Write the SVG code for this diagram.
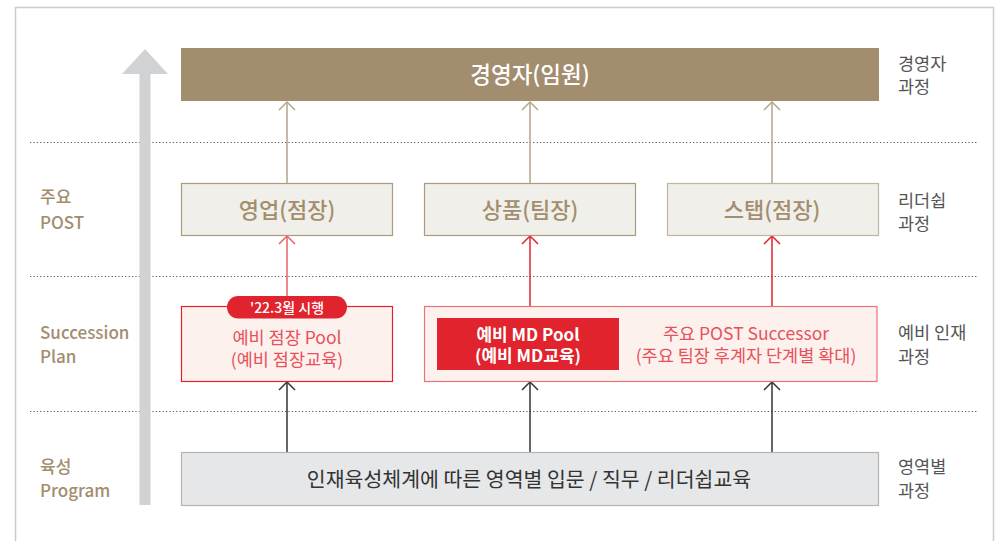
<svg xmlns="http://www.w3.org/2000/svg" width="1002" height="541" viewBox="0 0 1002 541">
<style>
.kr{font-family:"Noto Sans CJK KR","Noto Sans",sans-serif}
.lbl{font-family:"Noto Sans CJK KR","Noto Sans",sans-serif;font-size:17px;fill:#a28d6e;font-weight:500}
.rl{font-family:"Noto Sans CJK KR","Noto Sans",sans-serif;font-size:17.5px;fill:#555555}
.dot{stroke:#555;stroke-width:1;stroke-dasharray:1.2 2.2;fill:none}
.tan{stroke:#b5a48a;stroke-width:1.5;fill:none}
.red{stroke:#e0232d;stroke-width:1.5;fill:none}
.redl{stroke:#e8606a;stroke-width:1.5;fill:none}
.blk{stroke:#333;stroke-width:1.5;fill:none}
</style>
<rect x="0" y="0" width="1002" height="541" fill="#ffffff"/>
<rect x="15.5" y="7.5" width="978" height="560" fill="none" stroke="#cccccc" stroke-width="1.5"/>
<g id="dividers">
<line class="dot" x1="30" y1="142.5" x2="978" y2="142.5"/>
<line class="dot" x1="30" y1="276.5" x2="978" y2="276.5"/>
<line class="dot" x1="30" y1="411.5" x2="978" y2="411.5"/>
</g>
<g id="big-arrow">
<rect x="139.5" y="73" width="11" height="432" fill="#d1d2d4"/>
<polygon points="145,49 122,74 168,74" fill="#d1d2d4"/>
</g>
<g id="left-labels">
<text class="lbl" x="40" y="203">주요</text>
<text class="lbl" x="40" y="229">POST</text>
<text class="lbl" x="40" y="339">Succession</text>
<text class="lbl" x="40" y="363">Plan</text>
<text class="lbl" x="40" y="473">육성</text>
<text class="lbl" x="40" y="497">Program</text>
</g>
<g id="right-labels">
<text class="rl" x="898" y="70">경영자</text>
<text class="rl" x="898" y="93">과정</text>
<text class="rl" x="898" y="207">리더쉽</text>
<text class="rl" x="898" y="230">과정</text>
<text class="rl" x="898" y="339">예비 인재</text>
<text class="rl" x="898" y="363">과정</text>
<text class="rl" x="898" y="473">영역별</text>
<text class="rl" x="898" y="497">과정</text>
</g>
<g id="connectors">
<line class="tan" x1="287" y1="183" x2="287" y2="102"/>
<polyline class="tan" points="279,110 287,102 295,110"/>
<line class="tan" x1="530" y1="183" x2="530" y2="102"/>
<polyline class="tan" points="522,110 530,102 538,110"/>
<line class="tan" x1="772" y1="183" x2="772" y2="102"/>
<polyline class="tan" points="764,110 772,102 780,110"/>
<line class="redl" x1="287" y1="297" x2="287" y2="236"/>
<polyline class="redl" points="279,244 287,236 295,244"/>
<line class="red" x1="530" y1="306" x2="530" y2="236"/>
<polyline class="red" points="522,244 530,236 538,244"/>
<line class="red" x1="772" y1="306" x2="772" y2="236"/>
<polyline class="red" points="764,244 772,236 780,244"/>
<line class="blk" x1="287" y1="452" x2="287" y2="382"/>
<polyline class="blk" points="279,390 287,382 295,390"/>
<line class="blk" x1="530" y1="452" x2="530" y2="382"/>
<polyline class="blk" points="522,390 530,382 538,390"/>
<line class="blk" x1="772" y1="452" x2="772" y2="382"/>
<polyline class="blk" points="764,390 772,382 780,390"/>
</g>
<g id="executive">
<rect x="181" y="48" width="698" height="53" fill="#a28d6e"/>
<text class="kr" x="530" y="82.5" text-anchor="middle" font-size="22.5" font-weight="500" fill="#ffffff">경영자(임원)</text>
</g>
<g id="post-sales">
<rect x="181.5" y="183.5" width="211" height="52" fill="#f0efea" stroke="#ab9a7f" stroke-width="1.2"/>
<text class="kr" x="287" y="218" text-anchor="middle" font-size="22" font-weight="500" fill="#a28d6e">영업(점장)</text>
</g>
<g id="post-product">
<rect x="424.5" y="183.5" width="211" height="52" fill="#f0efea" stroke="#ab9a7f" stroke-width="1.2"/>
<text class="kr" x="530" y="218" text-anchor="middle" font-size="22" font-weight="500" fill="#a28d6e">상품(팀장)</text>
</g>
<g id="post-staff">
<rect x="667.5" y="183.5" width="211" height="52" fill="#f0efea" stroke="#c2b49e" stroke-width="1.2"/>
<text class="kr" x="772" y="218" text-anchor="middle" font-size="22" font-weight="500" fill="#a28d6e">스탭(점장)</text>
</g>
<g id="pool-store">
<rect x="181.5" y="306.5" width="211" height="75" fill="#fcf1ed" stroke="#e0232d" stroke-width="1.2"/>
<rect x="227" y="296" width="120" height="22.5" rx="11.25" fill="#e0232d"/>
<text class="kr" x="287" y="313" text-anchor="middle" font-size="14" font-weight="500" fill="#ffffff">'22.3월 시행</text>
<text class="kr" x="287" y="344" text-anchor="middle" font-size="17.5" fill="#e8505b">예비 점장 Pool</text>
<text class="kr" x="287" y="366" text-anchor="middle" font-size="17.5" fill="#e8505b">(예비 점장교육)</text>
</g>
<g id="pool-md">
<rect x="424.5" y="306.5" width="452.5" height="75" fill="#fcf1ed" stroke="#e8747a" stroke-width="1.2"/>
<rect x="437" y="318" width="182" height="52" fill="#e0232d"/>
<text class="kr" x="528" y="341" text-anchor="middle" font-size="17" font-weight="700" fill="#ffffff">예비 MD Pool</text>
<text class="kr" x="528" y="362" text-anchor="middle" font-size="17" font-weight="700" fill="#ffffff">(예비 MD교육)</text>
<text class="kr" x="746" y="340" text-anchor="middle" font-size="17.5" fill="#e8505b">주요 POST Successor</text>
<text class="kr" x="746" y="362" text-anchor="middle" font-size="17.5" fill="#e8505b">(주요 팀장 후계자 단계별 확대)</text>
</g>
<g id="program">
<rect x="181.5" y="452.5" width="697" height="53" fill="#e6e7e8" stroke="#b3b3b3" stroke-width="1.2"/>
<text class="kr" x="529" y="487" text-anchor="middle" font-size="20.5" fill="#333333">인재육성체계에 따른 영역별 입문 / 직무 / 리더쉽교육</text>
</g>
</svg>
